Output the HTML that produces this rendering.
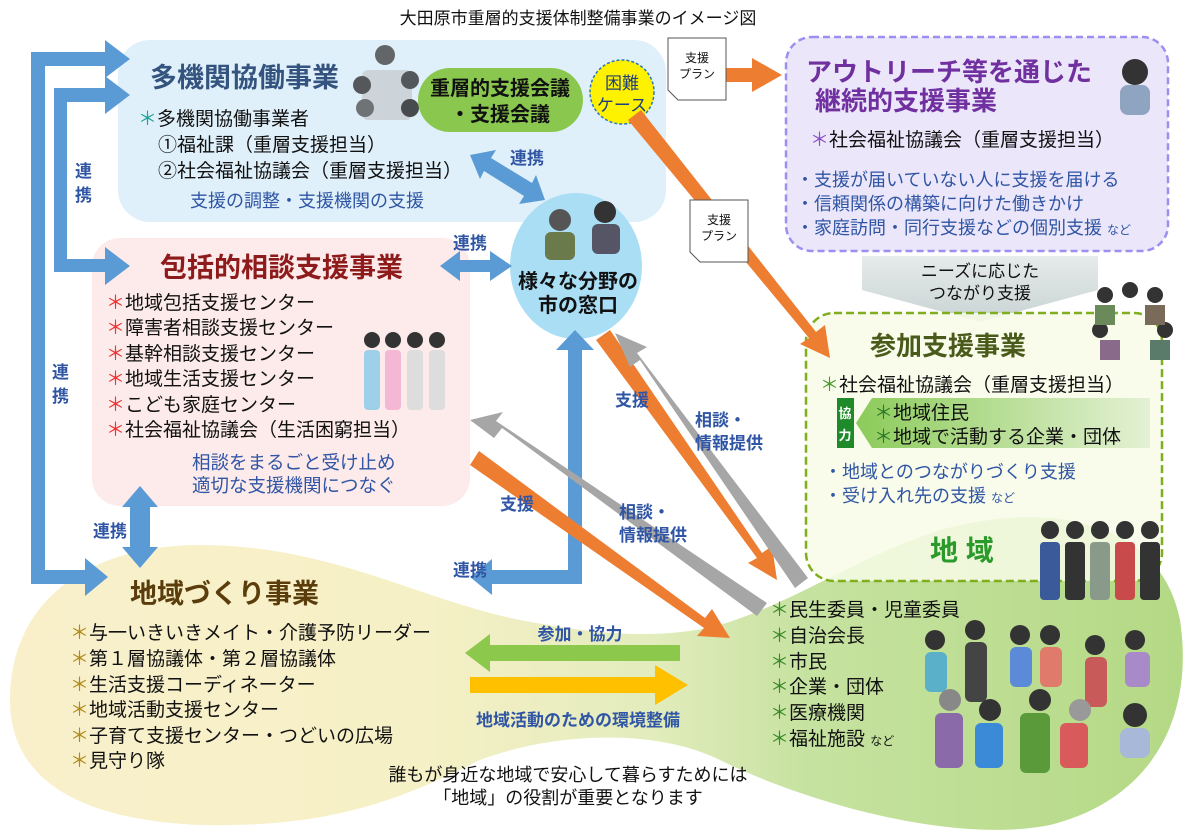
<!DOCTYPE html>
<html><head><meta charset="utf-8"><style>
html,body{margin:0;padding:0;background:#fff;}
svg{display:block;font-family:"Liberation Sans","Noto Sans CJK JP",sans-serif;}
.b{font-weight:bold;}
</style></head><body>
<svg width="1200" height="831" viewBox="0 0 1200 831" xmlns="http://www.w3.org/2000/svg">
<defs>
<linearGradient id="land" x1="0" y1="0" x2="1" y2="0">
<stop offset="0" stop-color="#f9f0cb"/><stop offset="0.35" stop-color="#f6f0c6"/>
<stop offset="0.55" stop-color="#e2ecbc"/><stop offset="0.68" stop-color="#c6e2a0"/>
<stop offset="1" stop-color="#b4d985"/></linearGradient>
<linearGradient id="gray" x1="0" y1="0" x2="0" y2="1"><stop offset="0" stop-color="#e6ebeb"/><stop offset="1" stop-color="#c9d3d3"/></linearGradient>
<linearGradient id="kyo" x1="0" y1="0" x2="1" y2="0"><stop offset="0" stop-color="#8ccb5a"/><stop offset="1" stop-color="#e4f1d4"/></linearGradient>
</defs>

<path d="M10,700 C10,600 90,545 200,545 C330,545 420,600 520,620 C600,635 660,640 720,625 C800,600 850,560 940,530 C1050,500 1160,520 1180,620 C1195,720 1150,800 1050,825 C950,845 800,800 720,760 C660,730 560,730 480,760 C400,800 330,828 200,825 C80,820 10,780 10,700 Z" fill="url(#land)"/>

<text x="578" y="24" font-size="17" text-anchor="middle" fill="#111">大田原市重層的支援体制整備事業のイメージ図</text>

<!-- multi-agency box -->
<rect x="118" y="40" width="548" height="182" rx="32" fill="#dff0fa"/>
<text x="150" y="87" font-size="27" class="b" fill="#34547f">多機関協働事業</text>
<g opacity="0.8"><circle cx="385" cy="55" r="10" fill="#444"/><rect x="362" y="70" width="50" height="50" rx="6" fill="#c8ccd2"/><circle cx="362" cy="85" r="9" fill="#333"/><circle cx="410" cy="80" r="9" fill="#333"/><circle cx="365" cy="108" r="9" fill="#555"/><circle cx="410" cy="108" r="9" fill="#222"/></g>
<rect x="418" y="68" width="165" height="64" rx="32" fill="#8ac74e"/>
<text x="500" y="95" font-size="20" class="b" text-anchor="middle" fill="#111">重層的支援会議</text>
<text x="500" y="121" font-size="20" class="b" text-anchor="middle" fill="#111">・支援会議</text>
<circle cx="622" cy="92" r="32" fill="#fff200" stroke="#2e75b6" stroke-width="1.5" stroke-dasharray="3 2"/>
<text x="622" y="89" font-size="17" text-anchor="middle" fill="#1f3f7a">困難</text>
<text x="622" y="111" font-size="17" text-anchor="middle" fill="#1f3f7a">ケース</text>
<text x="138" y="125" font-size="19" fill="#111"><tspan fill="#1aa39a">＊</tspan>多機関協働事業者</text>
<text x="158" y="151" font-size="19" fill="#111">①福祉課（重層支援担当）</text>
<text x="158" y="177" font-size="19" fill="#111">②社会福祉協議会（重層支援担当）</text>
<text x="190" y="207" font-size="18" fill="#2f55a4">支援の調整・支援機関の支援</text>

<!-- pink box -->
<rect x="92" y="238" width="378" height="268" rx="28" fill="#fdeaea"/>
<text x="160" y="277" font-size="27" class="b" fill="#8e1b1b">包括的相談支援事業</text>
<g font-size="19" fill="#111">
<text x="106" y="309"><tspan fill="#e33">＊</tspan>地域包括支援センター</text>
<text x="106" y="334"><tspan fill="#e33">＊</tspan>障害者相談支援センター</text>
<text x="106" y="360"><tspan fill="#e33">＊</tspan>基幹相談支援センター</text>
<text x="106" y="385"><tspan fill="#e33">＊</tspan>地域生活支援センター</text>
<text x="106" y="411"><tspan fill="#e33">＊</tspan>こども家庭センター</text>
<text x="106" y="436"><tspan fill="#e33">＊</tspan>社会福祉協議会（生活困窮担当）</text>
</g>
<g><circle cx="372" cy="340" r="8" fill="#333"/><circle cx="393" cy="340" r="8" fill="#333"/><circle cx="415" cy="340" r="8" fill="#333"/><circle cx="437" cy="340" r="8" fill="#333"/>
<rect x="364" y="350" width="16" height="60" rx="4" fill="#9fd0ea"/><rect x="385" y="350" width="16" height="60" rx="4" fill="#f4b8d4"/><rect x="407" y="350" width="16" height="60" rx="4" fill="#ddd"/><rect x="429" y="350" width="16" height="60" rx="4" fill="#ddd"/></g>
<text x="192" y="469" font-size="18.5" fill="#2f55a4">相談をまるごと受け止め</text>
<text x="192" y="492" font-size="18.5" fill="#2f55a4">適切な支援機関につなぐ</text>

<!-- city window circle -->
<ellipse cx="576" cy="266" rx="66" ry="73" fill="#a9def5"/>
<circle cx="560" cy="220" r="11" fill="#555"/><rect x="545" y="232" width="30" height="28" rx="6" fill="#6b7a4a"/>
<circle cx="605" cy="212" r="11" fill="#333"/><rect x="592" y="224" width="28" height="30" rx="6" fill="#556"/>
<text x="578" y="288" font-size="20" class="b" text-anchor="middle" fill="#111">様々な分野の</text>
<text x="578" y="312" font-size="20" class="b" text-anchor="middle" fill="#111">市の窓口</text>

<!-- outreach box -->
<rect x="786" y="37" width="382" height="214" rx="26" fill="#ebe6fa" stroke="#9b90f0" stroke-width="2.5" stroke-dasharray="7 4"/>
<text x="806" y="81" font-size="26" class="b" fill="#7030a0">アウトリーチ等を通じた</text>
<text x="815" y="110" font-size="26" class="b" fill="#7030a0">継続的支援事業</text>
<circle cx="1135" cy="72" r="13" fill="#333"/><rect x="1120" y="85" width="30" height="30" rx="8" fill="#8fa4c0"/>
<text x="810" y="146" font-size="19" fill="#111"><tspan fill="#8a4fc8">＊</tspan>社会福祉協議会（重層支援担当）</text>
<g font-size="18" fill="#2f55a4">
<text x="796" y="186">・支援が届いていない人に支援を届ける</text>
<text x="796" y="210">・信頼関係の構築に向けた働きかけ</text>
<text x="796" y="234">・家庭訪問・同行支援などの個別支援 <tspan font-size="12">など</tspan></text>
</g>

<path d="M862,256 H1098 V290 L980,322 L862,290 Z" fill="url(#gray)"/>
<text x="980" y="277" font-size="17" text-anchor="middle" fill="#111">ニーズに応じた</text>
<text x="980" y="299" font-size="17" text-anchor="middle" fill="#111">つながり支援</text>

<!-- participation box -->
<rect x="806" y="313" width="356" height="268" rx="28" fill="#f8fbe8" fill-opacity="0.85" stroke="#7fae1e" stroke-width="2.5" stroke-dasharray="8 4"/>
<g><circle cx="1105" cy="295" r="8" fill="#333"/><circle cx="1130" cy="290" r="8" fill="#333"/><circle cx="1155" cy="295" r="8" fill="#333"/><circle cx="1100" cy="330" r="8" fill="#333"/><circle cx="1165" cy="330" r="8" fill="#333"/>
<rect x="1095" y="305" width="20" height="20" fill="#6a8a5a"/><rect x="1145" y="305" width="20" height="20" fill="#7a6a5a"/><rect x="1100" y="340" width="20" height="20" fill="#8a6a8a"/><rect x="1150" y="340" width="20" height="20" fill="#5a7a6a"/></g>
<text x="870" y="355" font-size="26" class="b" fill="#4a5a1a">参加支援事業</text>
<text x="820" y="391" font-size="19" fill="#111"><tspan fill="#4a9a2a">＊</tspan>社会福祉協議会（重層支援担当）</text>
<rect x="837" y="398" width="17" height="50" fill="#1f8a2a"/>
<text x="845" y="418" font-size="13" fill="#fff" text-anchor="middle" class="b">協</text>
<text x="845" y="440" font-size="13" fill="#fff" text-anchor="middle" class="b">力</text>
<path d="M856,423 L872,398 H1150 V448 H872 Z" fill="url(#kyo)"/>
<text x="874" y="419" font-size="19" fill="#111"><tspan fill="#2f7a2a">＊</tspan>地域住民</text>
<text x="874" y="443" font-size="19" fill="#111"><tspan fill="#2f7a2a">＊</tspan>地域で活動する企業・団体</text>
<text x="824" y="478" font-size="18" fill="#2f55a4">・地域とのつながりづくり支援</text>
<text x="824" y="502" font-size="18" fill="#2f55a4">・受け入れ先の支援 <tspan font-size="12">など</tspan></text>

<!-- local -->
<text x="930" y="560" font-size="28" class="b" fill="#2a9a2a">地 域</text>
<g><circle cx="1050" cy="530" r="9" fill="#333"/><circle cx="1075" cy="530" r="9" fill="#333"/><circle cx="1100" cy="530" r="9" fill="#333"/><circle cx="1125" cy="530" r="9" fill="#333"/><circle cx="1150" cy="530" r="9" fill="#333"/>
<rect x="1040" y="542" width="20" height="58" rx="4" fill="#3a5a9a"/><rect x="1065" y="542" width="20" height="58" rx="4" fill="#333"/><rect x="1090" y="542" width="20" height="58" rx="4" fill="#8a9a8a"/><rect x="1115" y="542" width="20" height="58" rx="4" fill="#c84a4a"/><rect x="1140" y="542" width="20" height="58" rx="4" fill="#333"/></g>
<g font-size="19" fill="#111">
<text x="770" y="616"><tspan fill="#3a8a2a">＊</tspan>民生委員・児童委員</text>
<text x="770" y="642"><tspan fill="#3a8a2a">＊</tspan>自治会長</text>
<text x="770" y="668"><tspan fill="#3a8a2a">＊</tspan>市民</text>
<text x="770" y="693"><tspan fill="#3a8a2a">＊</tspan>企業・団体</text>
<text x="770" y="719"><tspan fill="#3a8a2a">＊</tspan>医療機関</text>
<text x="770" y="745"><tspan fill="#3a8a2a">＊</tspan>福祉施設 <tspan font-size="12">など</tspan></text>
</g>
<g>
<circle cx="935" cy="640" r="10" fill="#333"/><circle cx="975" cy="630" r="10" fill="#333"/><circle cx="1020" cy="635" r="10" fill="#333"/><circle cx="1050" cy="635" r="10" fill="#333"/><circle cx="1095" cy="645" r="10" fill="#333"/><circle cx="1135" cy="640" r="10" fill="#333"/>
<rect x="925" y="652" width="22" height="40" rx="6" fill="#5ab0c8"/><rect x="965" y="642" width="22" height="60" rx="6" fill="#444"/><rect x="1010" y="647" width="22" height="40" rx="6" fill="#5a8ad8"/><rect x="1040" y="647" width="22" height="40" rx="6" fill="#e07a6a"/><rect x="1085" y="657" width="22" height="50" rx="6" fill="#c85a5a"/><rect x="1125" y="652" width="25" height="35" rx="6" fill="#a88ac8"/>
<circle cx="950" cy="700" r="11" fill="#888"/><circle cx="990" cy="710" r="11" fill="#333"/><circle cx="1040" cy="700" r="11" fill="#333"/><circle cx="1080" cy="710" r="11" fill="#999"/><circle cx="1135" cy="715" r="12" fill="#333"/>
<rect x="935" y="713" width="28" height="55" rx="6" fill="#8a6aa8"/><rect x="975" y="723" width="28" height="45" rx="6" fill="#3a8ad8"/><rect x="1020" y="713" width="30" height="60" rx="6" fill="#5a9a3a"/><rect x="1060" y="723" width="28" height="45" rx="6" fill="#d85a5a"/><rect x="1120" y="728" width="30" height="30" rx="8" fill="#a8b8d8"/>
</g>

<!-- community building -->
<text x="130" y="603" font-size="27" class="b" fill="#5b3d0c">地域づくり事業</text>
<g font-size="19" fill="#111">
<text x="70" y="639"><tspan fill="#b08a1a">＊</tspan>与一いきいきメイト・介護予防リーダー</text>
<text x="70" y="665"><tspan fill="#b08a1a">＊</tspan>第１層協議体・第２層協議体</text>
<text x="70" y="691"><tspan fill="#b08a1a">＊</tspan>生活支援コーディネーター</text>
<text x="70" y="716"><tspan fill="#b08a1a">＊</tspan>地域活動支援センター</text>
<text x="70" y="742"><tspan fill="#b08a1a">＊</tspan>子育て支援センター・つどいの広場</text>
<text x="70" y="767"><tspan fill="#b08a1a">＊</tspan>見守り隊</text>
</g>
<text x="568" y="781" font-size="18" text-anchor="middle" fill="#111">誰もが身近な地域で安心して暮らすためには</text>
<text x="568" y="804" font-size="18" text-anchor="middle" fill="#111">「地域」の役割が重要となります</text>

<path d="M680,645 H490 V634 L465,653 L490,672 V661 H680 Z" fill="#8cc84b"/>
<text x="580" y="640" font-size="17" class="b" text-anchor="middle" fill="#2f55a4">参加・協力</text>
<path d="M470,677 H655 V665 L688,685 L655,705 V693 H470 Z" fill="#ffc000"/>
<text x="578" y="726" font-size="17" class="b" text-anchor="middle" fill="#2f55a4">地域活動のための環境整備</text>

<!-- blue connectors -->
<g fill="#5b9bd5">
<rect x="31" y="52" width="14" height="532"/>
<path d="M31,52 H105 V40 L130,59 L105,78 V66 H31 Z"/>
<path d="M31,570 H85 V558 L108,577 L85,596 V584 H31 Z"/>
<rect x="54" y="88" width="13" height="184"/>
<path d="M54,88 H105 V76 L130,95 L105,114 V102 H54 Z"/>
<path d="M54,259 H105 V247 L130,266 L105,285 V272 H54 Z"/>
<path d="M440,266 L460,251 V260 H490 V251 L512,266 L490,281 V272 H460 V281 Z"/>
<path d="M470,155 L496,150 L491,158 L532,183 L536,175 L545,200 L519,204 L524,196 L484,171 L480,179 Z"/>
<path d="M140,486 L158,507 H150 V547 H158 L140,568 L122,547 H130 V507 H122 Z"/>
<path d="M470,577 L492,559 V570 H568 V350 H556 L575,330 L594,350 H582 V584 H492 V595 Z"/>
</g>
<g font-size="17" class="b" fill="#2f55a4">
<text x="75" y="177">連</text><text x="75" y="201">携</text>
<text x="52" y="378">連</text><text x="52" y="402">携</text>
<text x="93" y="537">連携</text>
<text x="453" y="576">連携</text>
<text x="453" y="249">連携</text>
<text x="510" y="164">連携</text>
</g>

<!-- orange arrows -->
<g fill="#ed7d31">
<path d="M683,68 H752 V58 L782,75 L752,92 V82 H683 Z"/>
<path d="M628,120 L641,110 L816,332 L825,325 L830,358 L800,344 L809,338 Z"/>
<path d="M596,340 L610,330 L762,553 L772,546 L777,580 L748,563 L757,558 Z"/>
<path d="M470,465 L479,451 L705,618 L712,609 L730,638 L697,636 L704,628 Z"/>
</g>
<g fill="#a6a6a6">
<path d="M808,578 L795,588 L640,360 L630,367 L615,333 L647,347 L637,353 Z"/>
<path d="M767,603 L757,616 L502,428 L494,438 L470,420 L503,412 L496,421 Z"/>
</g>
<g font-size="17" class="b" fill="#2f55a4">
<text x="615" y="406">支援</text>
<text x="695" y="426">相談・</text><text x="695" y="449">情報提供</text>
<text x="500" y="510">支援</text>
<text x="619" y="518">相談・</text><text x="619" y="541">情報提供</text>
</g>

<g font-size="12" fill="#111" text-anchor="middle">
<path d="M668,38 H726 V100 H678 L668,90 Z" fill="#fff" stroke="#555"/>
<text x="697" y="62">支援</text><text x="697" y="78">プラン</text>
<path d="M690,200 H748 V262 H700 L690,252 Z" fill="#fff" stroke="#555"/>
<text x="719" y="224">支援</text><text x="719" y="240">プラン</text>
</g>
</svg>
</body></html>
